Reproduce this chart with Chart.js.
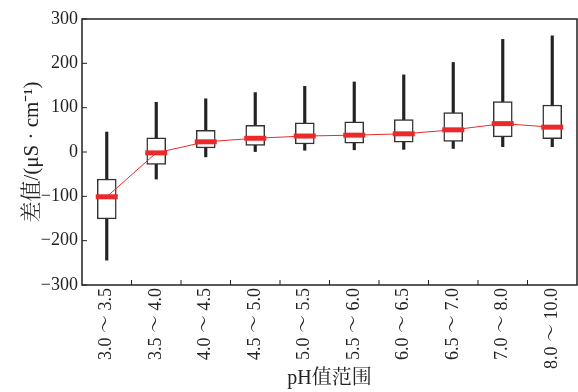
<!DOCTYPE html>
<html>
<head>
<meta charset="utf-8">
<script src="https://cdn.jsdelivr.net/npm/chart.js@4"></script>
<style>
  html, body { margin: 0; padding: 0; background: #fff; }
  #wrap { width: 578px; height: 392px; position: relative; }
</style>
</head>
<body>
<div id="wrap"><canvas id="c"></canvas></div>
<script>
// pH ranges and box statistics
const categories = ['3.0 ～ 3.5', '3.5 ～ 4.0', '4.0 ～ 4.5', '4.5 ～ 5.0', '5.0 ～ 5.5',
                    '5.5 ～ 6.0', '6.0 ～ 6.5', '6.5 ～ 7.0', '7.0 ～ 8.0', '8.0 ～ 10.0'];
const whiskerLow  = [-244, -61, -11, 1, 4, 5, 6, 8, 12, 12];
const boxLow      = [-151, -28, 9, 15, 18, 20, 22, 24, 34, 30];
const medians     = [-101, -2, 23, 31, 36, 38, 41, 50, 64, 56];
const boxHigh     = [-61, 32, 49, 60, 66, 68, 73, 89, 114, 106];
const whiskerHigh = [45, 112, 120, 134, 148, 158, 174, 202, 254, 262];
const yTicks = [-300, -200, -100, 0, 100, 200, 300];

const FONT = "'Liberation Serif', 'Noto Serif CJK SC', 'Noto Sans CJK SC', serif";
const INK = '#222';

// frame + inward tick marks
const framePlugin = {
    id: 'frame',
    afterDraw(chart) {
        const { ctx, chartArea: a, scales } = chart;
        ctx.save();
        ctx.strokeStyle = INK;
        ctx.lineWidth = 1.5;
        ctx.strokeRect(a.left, a.top, a.right - a.left, a.bottom - a.top);
        ctx.lineWidth = 1;
        yTicks.forEach(v => {
            const y = scales.y.getPixelForValue(v);
            ctx.beginPath();
            ctx.moveTo(a.left, y);
            ctx.lineTo(a.left + 5, y);
            ctx.stroke();
        });
        for (let i = 0; i < categories.length - 1; i++) {
            const x = scales.x.getPixelForValue(i + 0.5);
            ctx.beginPath();
            ctx.moveTo(x, a.bottom);
            ctx.lineTo(x, a.bottom - 5);
            ctx.stroke();
        }
        ctx.restore();
    }
};

new Chart(document.getElementById('c'), {
    type: 'bar',
    data: {
        labels: categories,
        datasets: [
            {
                type: 'line',
                label: 'median',
                data: medians,
                borderColor: '#ea2a2a',
                borderWidth: 1,
                pointStyle: 'line',
                pointRadius: 11,
                pointHoverRadius: 11,
                pointBorderWidth: 5,
                pointBorderColor: '#ea2a2a',
                order: 0
            },
            {
                label: 'box',
                data: boxLow.map((v, i) => [v, boxHigh[i]]),
                backgroundColor: '#fff',
                borderColor: '#333',
                borderWidth: 1.5,
                borderSkipped: false,
                barThickness: 19,
                grouped: false,
                order: 1
            },
            {
                label: 'whisker',
                data: whiskerLow.map((v, i) => [v, whiskerHigh[i]]),
                backgroundColor: INK,
                barThickness: 2.5,
                grouped: false,
                order: 2
            }
        ]
    },
    options: {
        responsive: true,
        maintainAspectRatio: false,
        animation: false,
        layout: { autoPadding: false, padding: { top: 19, right: 1, left: 0, bottom: 0 } },
        plugins: {
            legend: { display: false },
            tooltip: { enabled: false }
        },
        scales: {
            x: {
                grid: { display: false, drawTicks: false },
                border: { display: false },
                ticks: {
                    color: INK,
                    font: { family: FONT, size: 18 },
                    minRotation: 90,
                    maxRotation: 90,
                    padding: 3
                },
                title: {
                    display: true,
                    text: 'pH值范围',
                    color: INK,
                    font: { family: FONT, size: 20 },
                    padding: { top: 0, bottom: 1 }
                },
                afterFit(scale) { scale.height = 107; }
            },
            y: {
                min: -300,
                max: 300,
                grid: { display: false, drawTicks: false },
                border: { display: false },
                ticks: {
                    color: INK,
                    font: { family: FONT, size: 18 },
                    stepSize: 100,
                    padding: 4,
                    callback: v => (v < 0 ? '\u2212' + Math.abs(v) : v)
                },
                title: {
                    display: true,
                    text: '差值/(μS · cm⁻¹)',
                    color: INK,
                    font: { family: FONT, size: 21 },
                    padding: { top: 20, bottom: 0 }
                },
                afterFit(scale) { scale.width = 82; }
            }
        }
    },
    plugins: [framePlugin]
});
</script>
</body>
</html>
